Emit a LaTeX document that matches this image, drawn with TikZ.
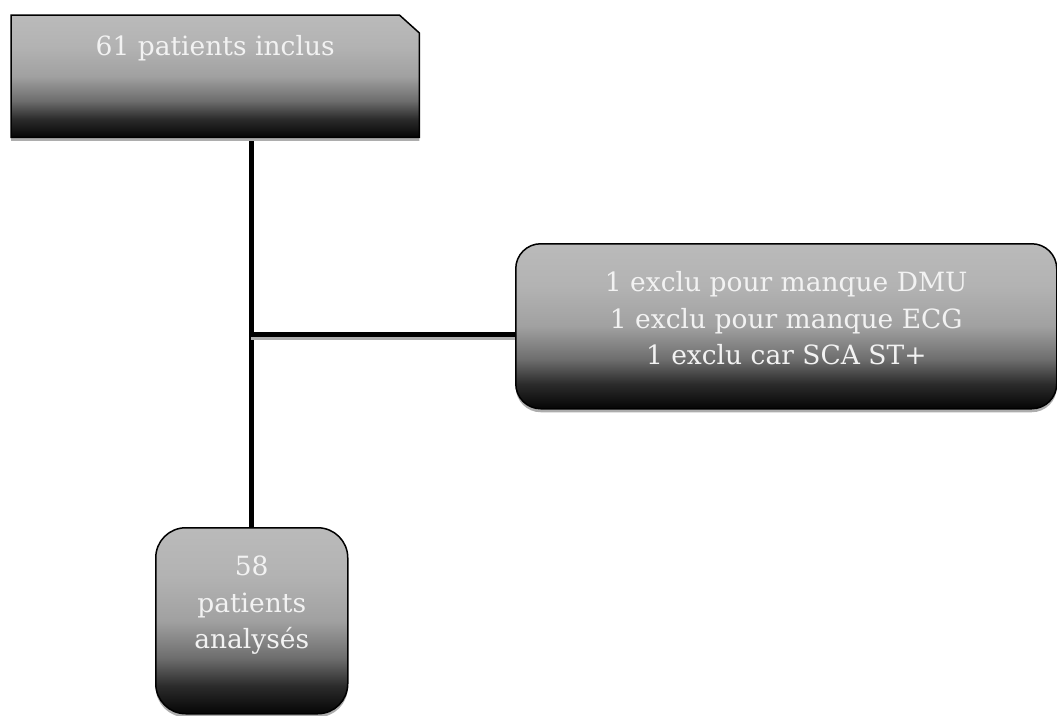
\documentclass[tikz,border=0pt]{standalone}
\usepackage{fontspec}
\setmainfont{DejaVu Serif}
\usetikzlibrary{shadows,backgrounds}
\definecolor{txtcol}{gray}{0.95}
\definecolor{shcol}{gray}{0.68}
\pgfdeclareverticalshading{boxgrad}{100bp}{color(0bp)=(black!98); color(25bp)=(black!98); color(32.5bp)=(black!83); color(40bp)=(black!57); color(50bp)=(black!37); color(62bp)=(black!30); color(75bp)=(black!27); color(100bp)=(black!27)}
\tikzset{
  boxstyle/.style={draw=black, line width=1.5pt, shading=boxgrad, inner sep=0pt, anchor=north west, text=txtcol,
    drop shadow={shadow xshift=0pt, shadow yshift=-3.5pt, fill=shcol, opacity=1}},
  conn/.style={line width=5pt, black, preaction={draw=shcol, line width=4pt, transform canvas={yshift=-4pt}}},
  bigfont/.style={font=\fontsize{26.5}{36.5}\selectfont}
}
\begin{document}
\begin{tikzpicture}[x=1pt,y=-1pt]
\useasboundingbox (0,0) rectangle (1057,715);
% top box (text node, shape drawn on background layer)
\node[inner sep=0pt, anchor=north west, text=txtcol, bigfont] (inclus) at (11,15)
  {\parbox[c][122pt][t]{408pt}{\centering\rule{0pt}{40pt}61 patients inclus}};
% right box
\node[boxstyle, rounded corners=25pt, bigfont] (exclus) at (515,243)
  {\parbox[c][165pt][t]{541pt}{\centering\rule{0pt}{48pt}1 exclu pour manque DMU\\1 exclu pour manque ECG\\1 exclu car SCA ST+}};
% bottom box
\node[boxstyle, rounded corners=30pt, bigfont] (analyses) at (155,527)
  {\parbox[c][186pt][t]{192pt}{\centering\rule{0pt}{48pt}58\\patients\\analysés}};
\coordinate (hj) at (251,334);
\begin{pgfonlayer}{background}
  \draw[conn] (inclus.south -| analyses.north) -- (analyses.north);
  \draw[conn] (hj) -- (hj -| exclus.west);
  \path[draw=black, line width=1.5pt, shading=boxgrad,
    drop shadow={shadow xshift=0pt, shadow yshift=-3.5pt, fill=shcol, opacity=1}]
    (inclus.south west) -- (inclus.north west) -- ([xshift=-20pt]inclus.north east)
    -- ([yshift=-18pt]inclus.north east) -- (inclus.south east) -- cycle;
\end{pgfonlayer}
\end{tikzpicture}
\end{document}
